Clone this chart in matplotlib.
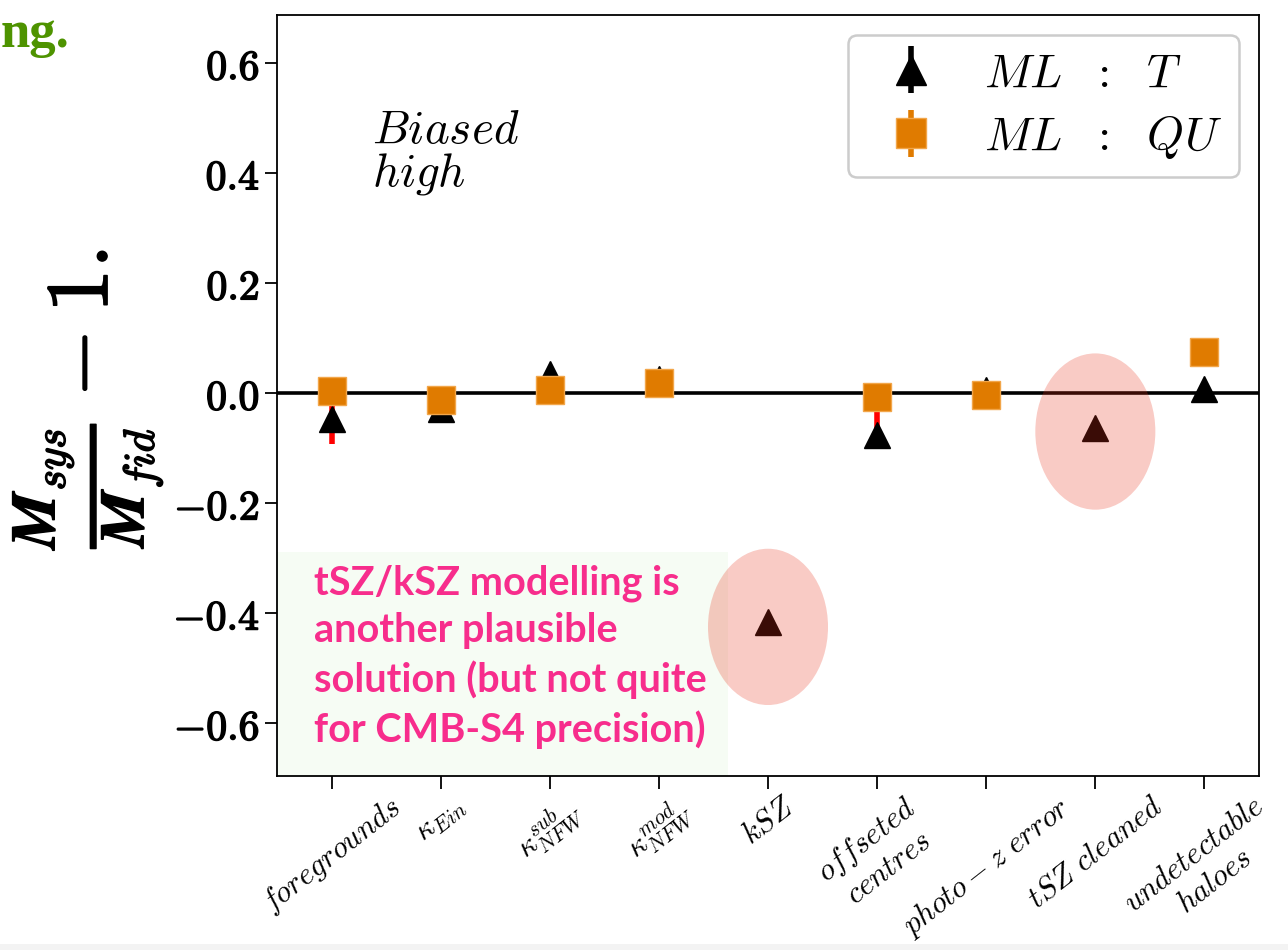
import numpy as np
import matplotlib
matplotlib.use('Agg')
import matplotlib.pyplot as plt
import matplotlib.patheffects as pe
from matplotlib.patches import Ellipse, Rectangle

plt.rcParams['mathtext.fontset'] = 'cm'

# systematic test cases
labels = [r'$foregrounds$', r'$\kappa_{Ein}$', r'$\kappa^{sub}_{NFW}$', r'$\kappa^{mod}_{NFW}$',
          r'$kSZ$', '$offseted$\n$centres$', r'$photo-z\ error$', r'$tSZ\ cleaned$',
          '$undetectable$\n$haloes$']
# mass bias from temperature maps
bias_T = [-0.047, -0.029, 0.035, 0.026, -0.416, -0.077, 0.005, -0.063, 0.008]
err_T_lo = [0.045, 0.0, 0.0, 0.0, 0.0, 0.0, 0.0, 0.0, 0.0]
err_T_hi = [0.045, 0.0, 0.0, 0.0, 0.0, 0.042, 0.0, 0.0, 0.0]
# mass bias from polarisation maps (no kSZ / tSZ cleaned runs)
bias_QU = [0.003, -0.013, 0.006, 0.018, np.nan, -0.007, -0.004, np.nan, 0.075]
err_QU = [0.01, 0.01, 0.01, 0.01, 0.0, 0.01, 0.01, 0.0, 0.01]
yticks = [-0.6, -0.4, -0.2, 0.0, 0.2, 0.4, 0.6]

x = np.arange(len(labels))
bold = [pe.withStroke(linewidth=1.1, foreground='k')]

fig = plt.figure(figsize=(12.88, 9.5), dpi=100)
ax = fig.add_axes([277/1288, 174/950, 982/1288, 761/950])

# red error bars of the T estimates
ax.errorbar(x, bias_T, yerr=[err_T_lo, err_T_hi], fmt='none', ecolor='red', elinewidth=4, zorder=2)
ax.errorbar(x, bias_T, yerr=np.zeros(len(x)), fmt='^', color='k', ms=19, elinewidth=4,
            label=r'$ML\ \ :\ \ T$', zorder=3)
ax.errorbar(x, bias_QU, yerr=err_QU, fmt='s', color='#e07b00', ms=20, mec='#f2a64a', mew=1,
            elinewidth=4, label=r'$ML\ \ :\ \ QU$', zorder=3)
ax.axhline(0, color='k', lw=2.6, zorder=1)

# highlight circles
for xi, yi in [(4, -0.425), (7, -0.07)]:
    ax.add_patch(Ellipse((xi, yi), 1.1, 0.284, facecolor='#e83018', alpha=0.25,
                         edgecolor='none', zorder=4))

ax.add_patch(Rectangle((0, 0), 0.459, 0.294, transform=ax.transAxes,
                       facecolor='#f6fcf4', edgecolor='none', zorder=1.5))

ax.set_xlim(-0.5, 8.5)
ax.set_ylim(-0.696, 0.687)
ax.set_yticks(yticks)
ax.set_yticklabels([r'$\mathbf{%.1f}$' % v for v in yticks], fontsize=30)
for t in ax.get_yticklabels():
    t.set_path_effects(bold)
ax.set_xticks(x)
ax.set_xticklabels(labels, rotation=38, ha='center', fontsize=22)
ax.tick_params(axis='both', direction='out', length=9, width=1.3)
ax.tick_params(axis='x', pad=2)
for s in ax.spines.values():
    s.set_linewidth(1.3)

ax.text(0.097, 0.878, '$Biased$\n$high$', transform=ax.transAxes, fontsize=34,
        va='top', ha='left', linespacing=0.92)

leg = ax.legend(loc='upper right', fontsize=34, handletextpad=0.55, handlelength=2.0,
                borderpad=0.35, labelspacing=0.35, framealpha=1, markerscale=1.1,
                borderaxespad=0.42)
leg.get_frame().set_linewidth(1.8)

fig.text(88/1288, 1 - 398/950,
         r'$\frac{\mathbfit{M}_{sys}}{\mathbfit{M}_{fid}} - \mathbf{1.}$',
         rotation=90, ha='center', va='center', fontsize=64, path_effects=bold)

fig.text(314/1288, 1 - 564/950,
         'tSZ/kSZ modelling is\nanother plausible\nsolution (but not quite\nfor CMB-S4 precision)',
         fontsize=28.5, fontweight='bold', family='Lato', color='#f72d8c',
         va='top', ha='left', linespacing=1.36, zorder=6)

fig.text(70/1288, 1 - 47/950, 'ng.', fontsize=38, fontweight='bold',
         family='Liberation Serif', color='#4e9300', ha='right', va='baseline')

fig.patches.append(Rectangle((0, 0), 1, 6/950, transform=fig.transFigure,
                             facecolor='#f3f3f3', edgecolor='none'))

fig.savefig('out.png', dpi=100)
